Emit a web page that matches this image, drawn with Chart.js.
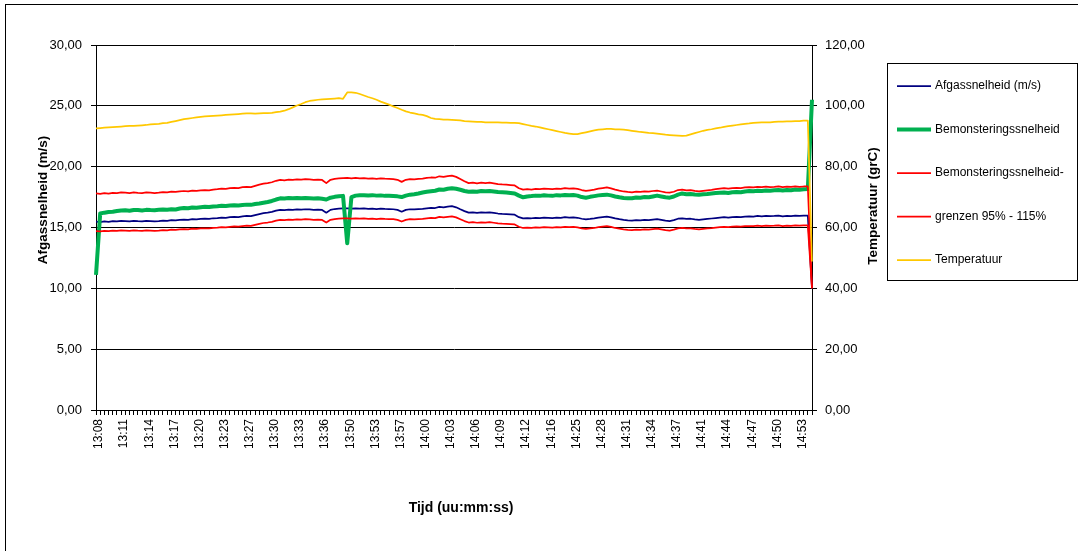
<!DOCTYPE html>
<html>
<head>
<meta charset="utf-8">
<script src="https://cdn.jsdelivr.net/npm/chart.js@4"></script>
<style>
  html, body { margin: 0; padding: 0; background: #fff; overflow: hidden; }
  #grafiek { display: block; }
</style>
</head>
<body>
<canvas id="grafiek" width="1078" height="551"></canvas>
<script>

// tijdlabels onder de x-as (elke 6e meting)
const tijdLabels = [
    "13:08", "13:11", "13:14", "13:17", "13:20", "13:23", "13:27", "13:30",
    "13:33", "13:36", "13:50", "13:53", "13:57", "14:00", "14:03", "14:06",
    "14:09", "14:12", "14:16", "14:25", "14:28", "14:31", "14:34", "14:37",
    "14:41", "14:44", "14:47", "14:50", "14:53"
];

const afgassnelheid = [
    15.48,15.45,15.50,15.47,15.52,15.50,15.55,15.53,15.50,15.55,
    15.52,15.50,15.55,15.53,15.50,15.53,15.57,15.55,15.60,15.58,
    15.62,15.65,15.63,15.68,15.66,15.70,15.72,15.70,15.76,15.78,
    15.82,15.80,15.85,15.88,15.86,15.92,15.95,15.93,16.02,16.10,
    16.18,16.22,16.28,16.38,16.45,16.42,16.46,16.44,16.48,16.46,
    16.50,16.48,16.45,16.47,16.44,16.22,16.45,16.52,16.55,16.57,
    16.58,16.56,16.58,16.55,16.57,16.54,16.56,16.52,16.55,16.53,
    16.52,16.50,16.45,16.30,16.45,16.50,16.48,16.52,16.54,16.58,
    16.62,16.60,16.70,16.66,16.72,16.75,16.66,16.50,16.35,16.22,
    16.25,16.20,16.24,16.22,16.25,16.20,16.15,16.12,16.10,16.08,
    16.05,15.85,15.75,15.78,15.76,15.80,15.78,15.82,15.80,15.78,
    15.82,15.80,15.85,15.82,15.84,15.80,15.72,15.66,15.70,15.75,
    15.82,15.86,15.90,15.84,15.75,15.68,15.62,15.58,15.56,15.60,
    15.58,15.62,15.60,15.65,15.68,15.62,15.56,15.53,15.60,15.72,
    15.75,15.70,15.72,15.66,15.62,15.66,15.70,15.74,15.78,15.82,
    15.85,15.82,15.86,15.88,15.86,15.90,15.92,15.90,15.95,15.92,
    15.96,15.93,15.95,15.98,15.92,15.96,15.94,15.98,15.95,15.97,
    15.97,10.00
];

const bemonsteringssnelheid = [
    11.10,16.15,16.22,16.28,16.30,16.36,16.40,16.42,16.38,16.44,
    16.44,16.40,16.45,16.43,16.42,16.45,16.48,16.46,16.50,16.48,
    16.56,16.60,16.58,16.64,16.62,16.67,16.70,16.68,16.73,16.75,
    16.78,16.76,16.80,16.83,16.81,16.85,16.88,16.86,16.93,16.98,
    17.04,17.10,17.18,17.30,17.40,17.38,17.42,17.40,17.43,17.40,
    17.42,17.40,17.38,17.40,17.36,17.30,17.45,17.52,17.56,17.60,
    13.70,17.50,17.62,17.65,17.66,17.64,17.66,17.62,17.64,17.60,
    17.60,17.58,17.56,17.50,17.62,17.70,17.74,17.80,17.88,17.94,
    17.98,18.02,18.12,18.10,18.18,18.22,18.18,18.10,18.00,17.94,
    17.96,17.94,18.00,17.98,18.00,17.96,17.92,17.90,17.88,17.84,
    17.80,17.62,17.48,17.55,17.58,17.62,17.60,17.65,17.62,17.60,
    17.66,17.64,17.68,17.66,17.67,17.62,17.50,17.45,17.52,17.58,
    17.64,17.68,17.70,17.64,17.55,17.48,17.42,17.40,17.40,17.46,
    17.45,17.50,17.48,17.55,17.62,17.55,17.48,17.45,17.55,17.70,
    17.80,17.74,17.76,17.72,17.70,17.74,17.76,17.80,17.84,17.86,
    17.88,17.84,17.90,17.92,17.90,17.96,18.00,17.98,18.02,18.00,
    18.04,18.02,18.06,18.08,18.04,18.08,18.06,18.12,18.10,18.14,
    18.16,25.50
];

const grensBoven = [
    17.80,17.77,17.83,17.79,17.85,17.83,17.88,17.86,17.83,17.88,
    17.85,17.83,17.88,17.86,17.83,17.86,17.91,17.88,17.94,17.92,
    17.96,18.00,17.97,18.03,18.01,18.06,18.08,18.06,18.12,18.15,
    18.19,18.17,18.23,18.26,18.24,18.31,18.34,18.32,18.42,18.52,
    18.61,18.65,18.72,18.84,18.92,18.88,18.93,18.91,18.95,18.93,
    18.98,18.95,18.92,18.94,18.91,18.65,18.92,19.00,19.03,19.06,
    19.07,19.04,19.07,19.03,19.06,19.02,19.04,19.00,19.03,19.01,
    19.00,18.98,18.92,18.75,18.92,18.98,18.95,19.00,19.02,19.07,
    19.11,19.09,19.21,19.16,19.23,19.26,19.16,18.98,18.80,18.65,
    18.69,18.63,18.68,18.65,18.69,18.63,18.57,18.54,18.52,18.49,
    18.46,18.23,18.11,18.15,18.12,18.17,18.15,18.19,18.17,18.15,
    18.19,18.17,18.23,18.19,18.22,18.17,18.08,18.01,18.06,18.11,
    18.19,18.24,18.29,18.22,18.11,18.03,17.96,17.92,17.89,17.94,
    17.92,17.96,17.94,18.00,18.03,17.96,17.89,17.86,17.94,18.08,
    18.11,18.06,18.08,18.01,17.96,18.01,18.06,18.10,18.15,18.19,
    18.23,18.19,18.24,18.26,18.24,18.29,18.31,18.29,18.34,18.31,
    18.35,18.32,18.34,18.38,18.31,18.35,18.33,18.38,18.34,18.37,
    18.37,10.00
];

const grensOnder = [
    14.71,14.68,14.73,14.70,14.74,14.73,14.77,14.75,14.73,14.77,
    14.74,14.73,14.77,14.75,14.73,14.75,14.79,14.77,14.82,14.80,
    14.84,14.87,14.85,14.90,14.88,14.92,14.93,14.92,14.97,14.99,
    15.03,15.01,15.06,15.09,15.07,15.12,15.15,15.13,15.22,15.30,
    15.37,15.41,15.47,15.56,15.63,15.60,15.64,15.62,15.66,15.64,
    15.68,15.66,15.63,15.65,15.62,15.41,15.63,15.69,15.72,15.74,
    15.75,15.73,15.75,15.72,15.74,15.71,15.73,15.69,15.72,15.70,
    15.69,15.68,15.63,15.49,15.63,15.68,15.66,15.69,15.71,15.75,
    15.79,15.77,15.87,15.83,15.88,15.91,15.83,15.68,15.53,15.41,
    15.44,15.39,15.43,15.41,15.44,15.39,15.34,15.31,15.30,15.28,
    15.25,15.06,14.96,14.99,14.97,15.01,14.99,15.03,15.01,14.99,
    15.03,15.01,15.06,15.03,15.05,15.01,14.93,14.88,14.92,14.96,
    15.03,15.07,15.11,15.05,14.96,14.90,14.84,14.80,14.78,14.82,
    14.80,14.84,14.82,14.87,14.90,14.84,14.78,14.75,14.82,14.93,
    14.96,14.92,14.93,14.88,14.84,14.88,14.92,14.95,14.99,15.03,
    15.06,15.03,15.07,15.09,15.07,15.11,15.12,15.11,15.15,15.12,
    15.16,15.13,15.15,15.18,15.12,15.16,15.14,15.18,15.15,15.17,
    15.17,10.00
];

const temperatuur = [
    92.6,92.7,92.8,92.9,93.0,93.1,93.2,93.3,93.4,93.4,
    93.5,93.6,93.7,93.9,94.0,94.1,94.3,94.4,94.7,95.0,
    95.3,95.6,95.8,96.0,96.2,96.4,96.5,96.6,96.7,96.8,
    96.9,97.0,97.1,97.2,97.3,97.4,97.5,97.5,97.4,97.5,
    97.6,97.6,97.7,97.9,98.1,98.4,98.9,99.5,100.1,100.6,
    101.2,101.6,101.8,102.0,102.1,102.2,102.3,102.4,102.5,102.3,
    104.4,104.4,104.3,103.9,103.4,102.9,102.5,102.0,101.4,100.9,
    100.4,99.8,99.3,98.7,98.2,97.8,97.5,97.2,97.0,96.6,
    96.0,95.7,95.6,95.5,95.5,95.4,95.3,95.2,95.0,94.9,
    94.8,94.7,94.7,94.6,94.6,94.6,94.6,94.5,94.5,94.4,
    94.4,94.3,94.0,93.7,93.4,93.2,92.9,92.6,92.3,92.0,
    91.7,91.4,91.1,90.9,90.7,90.7,91.0,91.3,91.6,91.9,
    92.2,92.3,92.4,92.4,92.3,92.3,92.2,92.0,91.8,91.6,
    91.4,91.3,91.1,91.0,90.9,90.7,90.5,90.4,90.3,90.2,
    90.1,90.2,90.6,91.0,91.4,91.8,92.1,92.3,92.6,92.8,
    93.1,93.3,93.5,93.7,93.9,94.1,94.2,94.4,94.5,94.6,
    94.6,94.6,94.7,94.8,94.8,94.9,94.9,95.0,95.0,95.1,
    95.1,48.8
];

const labelStap = 6;
const lettertype = "'Liberation Sans', Arial, sans-serif";

// categorieen: elke meting een streepje, elke 6e een tijd
const categorieen = afgassnelheid.map((v, i) =>
    i % labelStap === 0 ? (tijdLabels[i / labelStap] || "") : ""
);

const komma = v => v.toFixed(2).replace(".", ",");

/* =========================
   TITELS, LEGENDA EN KADER
========================= */
const extraTekst = {
    id: "extraTekst",
    afterDraw(chart) {
        const ctx = chart.ctx;
        ctx.save();

        // kader om de grafiek
        ctx.strokeStyle = "#000";
        ctx.lineWidth = 1;
        ctx.strokeRect(5.5, 4.5, 1200, 700);

        ctx.fillStyle = "#000";
        ctx.textAlign = "center";
        ctx.textBaseline = "middle";

        ctx.font = "bold 14px " + lettertype;
        ctx.fillText("Tijd (uu:mm:ss)", 461, 508);

        ctx.font = "bold 13.5px " + lettertype;
        ctx.save();
        ctx.translate(43, 200);
        ctx.rotate(-Math.PI / 2);
        ctx.fillText("Afgassnelheid (m/s)", 0, 0);
        ctx.restore();

        ctx.save();
        ctx.translate(873, 206);
        ctx.rotate(-Math.PI / 2);
        ctx.fillText("Temperatuur (grC)", 0, 0);
        ctx.restore();

        // legenda
        ctx.strokeRect(887.5, 63.5, 190, 217);
        ctx.font = "12px " + lettertype;
        ctx.textAlign = "left";
        chart.data.datasets.forEach((ds, i) => {
            const y = 86 + i * 43.5;
            ctx.strokeStyle = ds.borderColor;
            ctx.lineWidth = ds.borderWidth;
            ctx.beginPath();
            ctx.moveTo(897, y);
            ctx.lineTo(931, y);
            ctx.stroke();
            ctx.fillText(ds.label, 935, y);
        });

        ctx.restore();
    }
};

new Chart(document.getElementById("grafiek"), {
    type: "line",
    data: {
        labels: categorieen,
        datasets: [
            {
                label: "Afgassnelheid (m/s)",
                data: afgassnelheid,
                borderColor: "#000080",
                borderWidth: 1.75,
                yAxisID: "y",
                order: 4
            },
            {
                label: "Bemonsteringssnelheid",
                data: bemonsteringssnelheid,
                borderColor: "#00b050",
                borderWidth: 4,
                yAxisID: "y",
                order: 3
            },
            {
                label: "Bemonsteringssnelheid-",
                data: grensBoven,
                borderColor: "#ff0000",
                borderWidth: 1.75,
                yAxisID: "y",
                order: 2
            },
            {
                label: "grenzen 95% - 115%",
                data: grensOnder,
                borderColor: "#ff0000",
                borderWidth: 1.75,
                yAxisID: "y",
                order: 1
            },
            {
                label: "Temperatuur",
                data: temperatuur,
                borderColor: "#ffc800",
                borderWidth: 1.75,
                yAxisID: "y1",
                order: 0
            }
        ]
    },
    options: {
        responsive: false,
        animation: false,
        devicePixelRatio: 1,
        elements: {
            point: { radius: 0 },
            line: { tension: 0, borderJoinStyle: "round" }
        },
        layout: {
            padding: { left: 0, top: 45, right: 206, bottom: 0 }
        },
        plugins: {
            legend: { display: false },
            tooltip: { enabled: false }
        },
        scales: {
            x: {
                offset: false,
                afterFit: s => { s.height = 141; },
                grid: {
                    drawOnChartArea: false,
                    drawTicks: true,
                    tickLength: 5,
                    color: "#000"
                },
                border: { color: "#000" },
                ticks: {
                    autoSkip: false,
                    minRotation: 90,
                    maxRotation: 90,
                    padding: 4,
                    labelOffset: 3,
                    color: "#000",
                    font: { family: lettertype, size: 12 }
                }
            },
            y: {
                position: "left",
                min: 0,
                max: 30,
                afterFit: s => { s.width = 96; },
                grid: {
                    color: "#000",
                    tickLength: 5
                },
                border: { color: "#000" },
                ticks: {
                    stepSize: 5,
                    padding: 9,
                    color: "#000",
                    font: { family: lettertype, size: 13 },
                    callback: v => komma(v)
                }
            },
            y1: {
                position: "right",
                min: 0,
                max: 120,
                afterFit: s => { s.width = 60; },
                grid: {
                    drawOnChartArea: false,
                    color: "#000",
                    tickLength: 5
                },
                border: { color: "#000" },
                ticks: {
                    stepSize: 20,
                    padding: 8,
                    color: "#000",
                    font: { family: lettertype, size: 13 },
                    callback: v => komma(v)
                }
            }
        }
    },
    plugins: [extraTekst]
});

</script>
</body>
</html>
